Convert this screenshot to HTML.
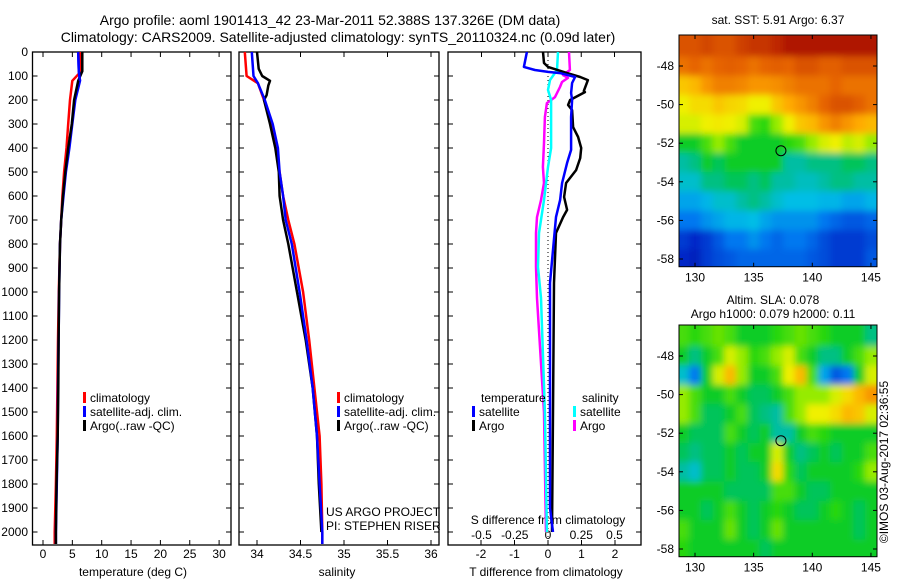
<!DOCTYPE html>
<html><head><meta charset="utf-8"><style>
html,body{margin:0;padding:0;background:#fff;}
svg{display:block;font-family:"Liberation Sans",sans-serif;}
</style></head><body>
<svg id="fig" width="900" height="580" viewBox="0 0 900 580" xmlns="http://www.w3.org/2000/svg">
<defs><filter id="blur" x="-5%" y="-5%" width="110%" height="110%"><feGaussianBlur stdDeviation="3.5" edgeMode="duplicate"/></filter></defs>
<text x="330" y="25" font-size="14" text-anchor="middle">Argo profile: aoml 1901413_42 23-Mar-2011 52.388S 137.326E (DM data)</text>
<text x="338" y="42" font-size="14" text-anchor="middle">Climatology: CARS2009. Satellite-adjusted climatology: synTS_20110324.nc (0.09d later)</text>
<g id="g"></g>
</svg>
<script>
// ---- data ----
const depthTicks=[0,100,200,300,400,500,600,700,800,900,1000,1100,1200,1300,1400,1500,1600,1700,1800,1900,2000];
const tempTicks=[0,5,10,15,20,25,30];
const salTicks=[34,34.5,35,35.5,36];
const salTickLabels=["34","34.5","35","35.5","36"];
const tdTicks=[-2,-1,0,1,2];
const sdTicks=[-0.5,-0.25,0,0.25,0.5];
const sdTickLabels=["-0.5","-0.25","0","0.25","0.5"];
const tempDepth=[0,80,120,200,300,400,500,600,700,800,1000,1200,1400,1600,1800,2000,2050];
const tempClim=[6.3,6.5,5.0,4.6,4.3,4.0,3.6,3.3,3.1,2.9,2.7,2.55,2.45,2.35,2.2,2.0,2.0];
const tempSat=[6.0,6.1,6.3,5.5,5.0,4.5,3.9,3.5,3.1,2.9,2.75,2.65,2.55,2.5,2.35,2.2,2.2];
const tempArgo=[6.7,6.7,6.0,5.3,4.9,4.3,3.8,3.4,3.1,2.9,2.75,2.65,2.6,2.5,2.3,2.2,2.2];
const salDepth=[0,100,130,200,300,400,500,600,700,800,1000,1200,1400,1600,1800,2000,2050];
const salClim=[33.86,33.88,34.01,34.08,34.17,34.22,34.26,34.30,34.36,34.43,34.53,34.60,34.66,34.72,34.74,34.75,34.75];
const salSat=[33.94,33.96,34.01,34.09,34.18,34.24,34.26,34.30,34.33,34.40,34.49,34.57,34.64,34.69,34.72,34.75,34.75];
const salArgoDepth=[0,70,100,120,140,180,200,300,400,500,600,700,800,1000,1200,1400,1600,1800,2000];
const salArgo=[34.0,34.02,34.06,34.15,34.13,34.11,34.08,34.15,34.21,34.25,34.26,34.30,34.36,34.46,34.56,34.64,34.69,34.71,34.74];
const tdSatDepth=[0,62,75,83,88,104,129,171,200,271,408,462,546,617,688,825,962,1900,2000];
const tdSat=[-0.63,-0.72,-0.39,0,0.36,0.81,0.72,0.69,0.72,0.69,0.69,0.57,0.42,0.36,0.24,0.15,0.06,0.06,0.15];
const tdArgoDepth=[0,46,62,88,104,117,163,167,200,221,242,313,354,400,442,492,546,604,658,688,754,962,1500,2000];
const tdArgo=[-0.15,-0.12,0,0.57,0.96,1.19,1.07,1.1,0.66,0.6,0.72,0.75,0.9,0.99,0.96,0.84,0.54,0.48,0.57,0.45,0.24,0.18,0.15,0.12];
const sdSatDepth=[0,75,117,158,200,400,479,617,754,896,1025,1500,2000];
const sdSat=[0.075,0.068,0.015,0,0.023,0.023,0,-0.03,-0.068,-0.075,-0.053,-0.023,-0.008];
const sdArgoDepth=[0,75,96,108,125,146,188,213,271,379,479,546,617,688,754,896,1025,1500,2000];
const sdArgo=[0.158,0.165,0.113,0.15,0.105,0.09,0.053,-0.008,-0.023,-0.03,-0.038,-0.03,-0.053,-0.083,-0.09,-0.09,-0.083,-0.03,-0.015];
const mapLon=[129,130,131,132,133,134,135,136,137,138,139,140,141,142,143,144,145];
const mapLat=[-47,-48,-49,-50,-51,-52,-53,-54,-55,-56,-57,-58];
const latTicks=[-48,-50,-52,-54,-56,-58];
const lonTicks=[130,135,140,145];
const sst=[
[0.85,0.85,0.87,0.85,0.85,0.88,0.9,0.9,0.92,0.95,0.95,0.95,0.95,0.95,0.95,0.95,0.95],
[0.8,0.82,0.8,0.82,0.83,0.82,0.8,0.82,0.83,0.82,0.85,0.85,0.83,0.83,0.85,0.85,0.85],
[0.68,0.7,0.75,0.78,0.78,0.77,0.75,0.75,0.76,0.78,0.8,0.8,0.8,0.82,0.8,0.8,0.8],
[0.62,0.65,0.65,0.68,0.66,0.65,0.62,0.62,0.68,0.72,0.75,0.78,0.82,0.85,0.85,0.83,0.8],
[0.6,0.6,0.62,0.63,0.62,0.6,0.5,0.48,0.55,0.62,0.68,0.7,0.75,0.78,0.75,0.72,0.7],
[0.45,0.45,0.5,0.55,0.5,0.45,0.45,0.45,0.45,0.48,0.5,0.55,0.6,0.62,0.58,0.6,0.55],
[0.38,0.4,0.45,0.42,0.45,0.45,0.45,0.45,0.45,0.38,0.38,0.4,0.4,0.4,0.42,0.42,0.4],
[0.35,0.35,0.4,0.4,0.42,0.42,0.4,0.42,0.38,0.38,0.36,0.36,0.38,0.4,0.4,0.38,0.38],
[0.3,0.3,0.32,0.35,0.35,0.38,0.4,0.38,0.35,0.33,0.33,0.33,0.32,0.32,0.3,0.3,0.32],
[0.25,0.25,0.28,0.3,0.32,0.32,0.33,0.3,0.28,0.28,0.28,0.28,0.25,0.22,0.2,0.2,0.22],
[0.15,0.12,0.15,0.2,0.25,0.25,0.28,0.25,0.22,0.25,0.25,0.22,0.18,0.15,0.15,0.15,0.18],
[0.12,0.1,0.15,0.18,0.2,0.22,0.22,0.22,0.22,0.22,0.22,0.2,0.18,0.15,0.15,0.15,0.2]];
const sla=[
[0.5,0.48,0.5,0.52,0.5,0.45,0.45,0.45,0.48,0.5,0.52,0.5,0.48,0.45,0.45,0.45,0.4],
[0.45,0.4,0.45,0.5,0.6,0.55,0.48,0.5,0.55,0.6,0.5,0.45,0.4,0.4,0.45,0.5,0.55],
[0.35,0.25,0.45,0.6,0.7,0.55,0.45,0.45,0.5,0.62,0.7,0.5,0.3,0.2,0.25,0.45,0.6],
[0.55,0.5,0.45,0.45,0.5,0.45,0.42,0.42,0.45,0.5,0.55,0.55,0.55,0.6,0.65,0.7,0.75],
[0.55,0.5,0.42,0.42,0.45,0.5,0.42,0.4,0.38,0.5,0.55,0.62,0.62,0.65,0.7,0.68,0.6],
[0.45,0.42,0.42,0.42,0.5,0.45,0.42,0.45,0.38,0.38,0.45,0.5,0.48,0.45,0.45,0.45,0.45],
[0.42,0.4,0.42,0.42,0.45,0.42,0.45,0.45,0.6,0.45,0.4,0.42,0.45,0.42,0.45,0.45,0.5],
[0.38,0.35,0.42,0.42,0.45,0.42,0.42,0.45,0.65,0.48,0.42,0.45,0.45,0.45,0.45,0.48,0.55],
[0.45,0.45,0.45,0.45,0.42,0.42,0.42,0.42,0.5,0.5,0.45,0.42,0.42,0.45,0.45,0.45,0.45],
[0.45,0.45,0.42,0.45,0.5,0.45,0.42,0.45,0.48,0.45,0.42,0.42,0.45,0.48,0.45,0.42,0.45],
[0.5,0.45,0.45,0.45,0.52,0.45,0.42,0.45,0.52,0.45,0.45,0.45,0.45,0.45,0.45,0.42,0.45],
[0.48,0.45,0.45,0.45,0.45,0.45,0.45,0.42,0.45,0.45,0.45,0.45,0.45,0.45,0.45,0.45,0.45]];
const floatLon=137.326, floatLat=-52.388;

// ---- drawing ----
const NS="http://www.w3.org/2000/svg";
const G=document.getElementById('g');
function el(tag,attrs,parent,txt){const e=document.createElementNS(NS,tag);for(const k in attrs)e.setAttribute(k,attrs[k]);if(txt!==undefined)e.textContent=txt;(parent||G).appendChild(e);return e;}
const TOP=52,BOT=545;
const yD=d=>TOP+d*0.24;
const xT=t=>43+t*5.87;
const xS=s=>257+(s-34)*87;
const xTD=t=>548+t*33.5;
const xSD=s=>548+s*133;
function stepPath(xs,ds,fx){let p='';for(let i=0;i<xs.length;i++){const x=fx(xs[i]).toFixed(1),y=yD(ds[i]).toFixed(1);p+=(i?'L':'M')+x+','+y;}return p;}
function panel(name,x0,x1){
  const g=el('g',{});  
  const r=el('rect',{x:x0,y:TOP,width:x1-x0,height:BOT-TOP,fill:'none',stroke:'#000','stroke-width':1.3},g);
   
  depthTicks.forEach(d=>{el('line',{x1:x0,x2:x0+5,y1:yD(d),y2:yD(d),stroke:'#000'},g);el('line',{x1:x1-5,x2:x1,y1:yD(d),y2:yD(d),stroke:'#000'},g);});
  return g;}
function line(g,name,color,xs,ds,fx){const p=el('path',{d:stepPath(xs,ds,fx),fill:'none',stroke:color,'stroke-width':2.5,'stroke-linejoin':'round'},g);}
function xticks(g,ticks,labels,fx,y,both){ticks.forEach((t,i)=>{const x=fx(t);el('line',{x1:x,x2:x,y1:BOT,y2:BOT-5,stroke:'#000'},g);if(both)el('line',{x1:x,x2:x,y1:TOP,y2:TOP+5,stroke:'#000'},g);const tx=el('text',{x:x,y:y,'font-size':12,'text-anchor':'middle'},g,labels[i]);});}
function legendEntry(g,x,y,color,label){el('rect',{x:x,y:y-10,width:3,height:11,fill:color},g);const t=el('text',{x:x+7,y:y,'font-size':12},g,label);}

// panel 1
const p1=panel('temperature-panel',32.5,231);
depthTicks.forEach(d=>{const t=el('text',{x:28,y:yD(d)+4,'font-size':12,'text-anchor':'end'},p1,String(d));});
xticks(p1,tempTicks,tempTicks.map(String),xT,558,true);
let t=el('text',{x:133,y:576,'font-size':12,'text-anchor':'middle'},p1,'temperature (deg C)');
line(p1,'temp-climatology-line','#f00',tempClim,tempDepth,xT);
line(p1,'temp-satellite-line','#00f',tempSat,tempDepth,xT);
line(p1,'temp-argo-line','#000',tempArgo,tempDepth,xT);
line(p1,'temp-satellite-line-top','#00f',tempSat.slice(0,3),tempDepth.slice(0,3),xT);
legendEntry(p1,83,402,'#f00','climatology');legendEntry(p1,83,416,'#00f','satellite-adj. clim.');legendEntry(p1,83,430,'#000','Argo(..raw -QC)');

// panel 2
const p2=panel('salinity-panel',239,439);
xticks(p2,salTicks,salTickLabels,xS,558,true);
t=el('text',{x:337,y:576,'font-size':12,'text-anchor':'middle'},p2,'salinity');
line(p2,'sal-climatology-line','#f00',salClim,salDepth,xS);
line(p2,'sal-argo-line','#000',salArgo,salArgoDepth,xS);
line(p2,'sal-satellite-line','#00f',salSat,salDepth,xS);
legendEntry(p2,337,402,'#f00','climatology');legendEntry(p2,337,416,'#00f','satellite-adj. clim.');legendEntry(p2,337,430,'#000','Argo(..raw -QC)');
t=el('text',{x:326,y:516,'font-size':12},p2,'US ARGO PROJECT');
t=el('text',{x:326,y:530,'font-size':12},p2,'PI: STEPHEN RISER');

// panel 3
const p3=panel('difference-panel',448,641);
el('line',{x1:548,x2:548,y1:TOP,y2:BOT,stroke:'#000','stroke-dasharray':'1,3'},p3);
tdTicks.forEach((v,i)=>{const x=xTD(v);el('line',{x1:x,x2:x,y1:BOT,y2:BOT-5,stroke:'#000'},p3);const tx=el('text',{x:x,y:558,'font-size':12,'text-anchor':'middle'},p3,String(v));});
sdTicks.forEach((v,i)=>{const x=xSD(v);el('line',{x1:x,x2:x,y1:TOP,y2:TOP+5,stroke:'#000'},p3);const tx=el('text',{x:x,y:539,'font-size':12,'text-anchor':'middle'},p3,sdTickLabels[i]);});
t=el('text',{x:548,y:524,'font-size':12,'text-anchor':'middle'},p3,'S difference from climatology');
t=el('text',{x:546,y:576,'font-size':12,'text-anchor':'middle'},p3,'T difference from climatology');
line(p3,'s-diff-argo-line','#f0f',sdArgo,sdArgoDepth,xSD);
line(p3,'s-diff-satellite-line','#0ff',sdSat,sdSatDepth,xSD);
line(p3,'t-diff-argo-line','#000',tdArgo,tdArgoDepth,xTD);
line(p3,'t-diff-satellite-line','#00f',tdSat,tdSatDepth,xTD);
t=el('text',{x:481,y:402,'font-size':12},p3,'temperature');
t=el('text',{x:582,y:402,'font-size':12},p3,'salinity');
legendEntry(p3,472,416,'#00f','satellite');legendEntry(p3,472,430,'#000','Argo');
legendEntry(p3,573,416,'#0ff','satellite');legendEntry(p3,573,430,'#f0f','Argo');

// maps
const cmapStops=[[0,[0,0,130]],[0.12,[0,40,200]],[0.25,[0,120,240]],[0.33,[0,190,230]],[0.39,[0,190,150]],[0.44,[0,200,50]],[0.48,[40,215,10]],[0.55,[150,235,0]],[0.62,[240,240,0]],[0.72,[255,170,0]],[0.82,[230,100,0]],[0.92,[190,40,0]],[1,[150,0,0]]];
function cmap(v){v=Math.max(0,Math.min(1,v));for(let i=1;i<cmapStops.length;i++){const a=cmapStops[i-1],b=cmapStops[i];if(v<=b[0]){const f=(v-a[0])/(b[0]-a[0]);const c=a[1].map((x,k)=>Math.round(x+(b[1][k]-x)*f));return `rgb(${c[0]},${c[1]},${c[2]})`;}}return 'rgb(150,0,0)';}
function drawMap(name,grid,top,titles){
  const g=el('g',{});  
  const L=679,R=877, lonX=lo=>695+(lo-130)*11.73, latY=la=>top+31+(-48-la)*19.3;
  const B=latY(-58.4);
  const cp=el('clipPath',{id:name+'-clip'},g);el('rect',{x:L,y:top,width:R-L,height:B-top},cp);
  const outer=el('g',{'clip-path':`url(#${name}-clip)`},g);
  const cg=el('g',{filter:'url(#blur)'},outer);
  grid.forEach((row,i)=>row.forEach((v,j)=>{const c=el('rect',{x:(lonX(mapLon[j]-0.5)-(j==0?8:0)).toFixed(1),y:(latY(mapLat[i]+0.5)-(i==0?8:0)).toFixed(1),width:12.3+(j==0||j==row.length-1?8:0),height:19.9+(i==0||i==grid.length-1?8:0),fill:cmap(v)},cg);}));
  el('rect',{x:L,y:top,width:R-L,height:B-top,fill:'none',stroke:'#000'},g);
  latTicks.forEach(la=>{const y=latY(la);el('line',{x1:L,x2:L+4,y1:y,y2:y,stroke:'#000'},g);el('line',{x1:R-4,x2:R,y1:y,y2:y,stroke:'#000'},g);const tx=el('text',{x:674,y:y+4,'font-size':12,'text-anchor':'end'},g,String(la));});
  lonTicks.forEach(lo=>{const x=lonX(lo);el('line',{x1:x,x2:x,y1:top,y2:top+4,stroke:'#000'},g);el('line',{x1:x,x2:x,y1:B-4,y2:B,stroke:'#000'},g);const tx=el('text',{x:x,y:B+15,'font-size':12,'text-anchor':'middle'},g,String(lo));});
  const m=el('circle',{cx:lonX(floatLon),cy:latY(floatLat),r:5,fill:'none',stroke:'#000'},g);
  titles.forEach((s,k)=>{const tx=el('text',{x:s[1],y:s[2],'font-size':12,'text-anchor':'middle'},g,s[0]);});
}
drawMap('sst-map',sst,35,[['sat. SST: 5.91  Argo: 6.37',778,24]]);
drawMap('sla-map',sla,325,[['Altim. SLA: 0.078',773,304],['Argo h1000: 0.079 h2000: 0.11',773,318]]);
t=el('text',{x:0,y:0,'font-size':12,'text-anchor':'middle',transform:'translate(888,462) rotate(-90)'},G,'©IMOS 03-Aug-2017 02:36:55');
</script>
</body></html>
